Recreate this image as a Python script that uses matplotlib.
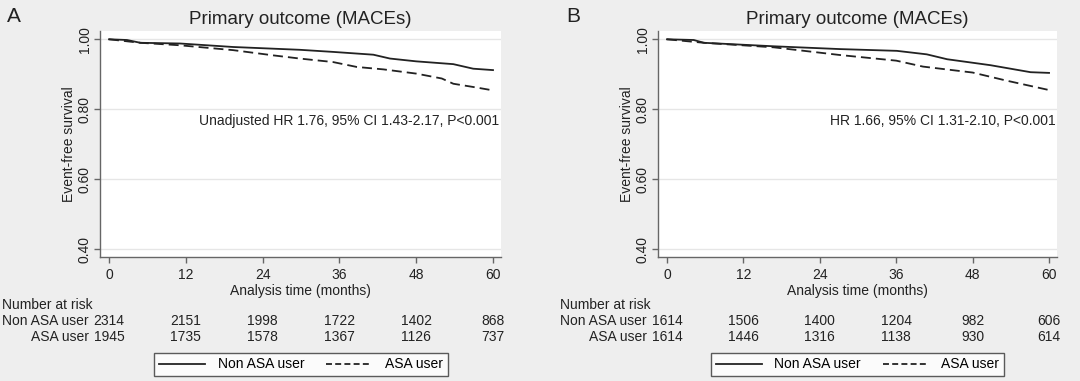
import matplotlib.pyplot as plt
from matplotlib.lines import Line2D

# ---- data ----
ticks = [0, 12, 24, 36, 48, 60]
groups = ["Non ASA user", "ASA user"]

# panel A (unadjusted)
a_t_non = [0, 2.8, 4.9, 11.1, 19.4, 29.8, 35, 41.3, 43.9, 48, 53.8, 56.9, 60]
a_s_non = [1.0, 0.998, 0.990, 0.988, 0.978, 0.970, 0.964, 0.956, 0.945, 0.937, 0.929, 0.916, 0.912]
a_t_asa = [0, 4.9, 11, 19.4, 25.7, 29.8, 35, 38.7, 42.9, 48, 52, 53.8, 57.5, 60]
a_s_asa = [1.0, 0.990, 0.983, 0.969, 0.954, 0.945, 0.935, 0.921, 0.914, 0.902, 0.888, 0.873, 0.862, 0.854]
a_risk_non = [2314, 2151, 1998, 1722, 1402, 868]
a_risk_asa = [1945, 1735, 1578, 1367, 1126, 737]
a_note = "Unadjusted HR 1.76, 95% CI 1.43-2.17, P<0.001"

# panel B (matched)
b_t_non = [0, 4.2, 5.8, 16.8, 27.2, 36.1, 40.8, 44, 50.8, 57.1, 60]
b_s_non = [1.0, 0.998, 0.990, 0.980, 0.972, 0.967, 0.957, 0.943, 0.926, 0.906, 0.904]
b_t_asa = [0, 5.8, 16.8, 27.2, 36, 40.2, 48, 53.3, 60]
b_s_asa = [1.0, 0.990, 0.977, 0.955, 0.939, 0.922, 0.905, 0.882, 0.855]
b_risk_non = [1614, 1506, 1400, 1204, 982, 606]
b_risk_asa = [1614, 1446, 1316, 1138, 930, 614]
b_note = "HR 1.66, 95% CI 1.31-2.10, P<0.001"

plt.rcParams['font.family'] = ['Liberation Sans', 'DejaVu Sans']
bg = '#eeeeee'
ink = '#222222'
dash_plot = (0, (5.5, 2.8))
dash_leg = (0, (3.3, 1.8))

fig = plt.figure(figsize=(10.8, 3.81), dpi=100, facecolor=bg)
H = 381.0


def panel(left, width, letter, letter_x, tn, sn, ta, sa, rn, ra, note, nar_x, leg_x):
    ax = fig.add_axes([left, 1 - 257 / H, width, (257 - 31) / H])
    ax.set_facecolor('white')
    ax.plot(tn, sn, color=ink, lw=1.3, solid_joinstyle='round')
    ax.plot(ta, sa, color=ink, lw=1.3, ls=dash_plot)
    ax.set_xlim(-1.41, 61.25)
    ax.set_ylim(0.378, 1.0237)
    ax.set_xticks(ticks)
    ax.set_yticks([0.4, 0.6, 0.8, 1.0])
    ax.set_yticklabels(['0.40', '0.60', '0.80', '1.00'], rotation=90, va='center')
    ax.grid(axis='y', color='#e6e6e6', lw=1)
    ax.set_axisbelow(True)
    for s in ['top', 'right']:
        ax.spines[s].set_visible(False)
    for s in ['left', 'bottom']:
        ax.spines[s].set_color('#666666')
        ax.spines[s].set_linewidth(1)
    ax.tick_params(colors='#666666', labelcolor=ink, labelsize=10, length=4.5, width=1)
    ax.tick_params(axis='y', pad=1.5)
    ax.set_ylabel('Event-free survival', fontsize=10, color=ink, labelpad=1)
    ax.set_xlabel('Analysis time (months)', fontsize=10, color=ink, labelpad=1)
    ax.set_title('Primary outcome (MACEs)', fontsize=13.5, color=ink, pad=5)
    ax.text(61.0, 0.766, note, ha='right', va='center', fontsize=10, color=ink)
    fig.text(letter_x / 1080, 1 - 16 / H, letter, fontsize=15, color=ink, ha='left', va='center')

    # number at risk table
    fig.text(nar_x / 1080, 1 - 305 / H, 'Number at risk', fontsize=10, color=ink, va='center')
    for yy, name, risk in [(321, groups[0], rn), (337, groups[1], ra)]:
        for t, n in zip(ticks, risk):
            ax.annotate(str(n), xy=(t, 1 - yy / H), xycoords=('data', 'figure fraction'),
                        ha='center', va='center', fontsize=10, color=ink, annotation_clip=False)
        ax.annotate(name, xy=(0, 1 - yy / H), xycoords=('data', 'figure fraction'),
                    xytext=(-14.5, 0), textcoords='offset points',
                    ha='right', va='center', fontsize=10, color=ink, annotation_clip=False)

    handles = [Line2D([], [], color=ink, lw=1.3),
               Line2D([], [], color=ink, lw=1.3, ls=dash_leg)]
    leg = fig.legend(handles, groups, loc='center', bbox_to_anchor=(leg_x / 1080, 1 - 364.5 / H),
                     ncol=2, fontsize=10, frameon=True, fancybox=False, handlelength=3.3,
                     columnspacing=1.6, handletextpad=0.9, borderpad=0.35)
    leg.get_frame().set_edgecolor('#333333')
    leg.get_frame().set_linewidth(1)
    leg.get_frame().set_facecolor('white')
    return ax


panel(100 / 1080, 401 / 1080, 'A', 7, a_t_non, a_s_non, a_t_asa, a_s_asa,
      a_risk_non, a_risk_asa, a_note, 2, 301)
panel(658 / 1080, 399 / 1080, 'B', 566, b_t_non, b_s_non, b_t_asa, b_s_asa,
      b_risk_non, b_risk_asa, b_note, 560, 857.5)

fig.savefig('out.png', dpi=100, facecolor=bg)
